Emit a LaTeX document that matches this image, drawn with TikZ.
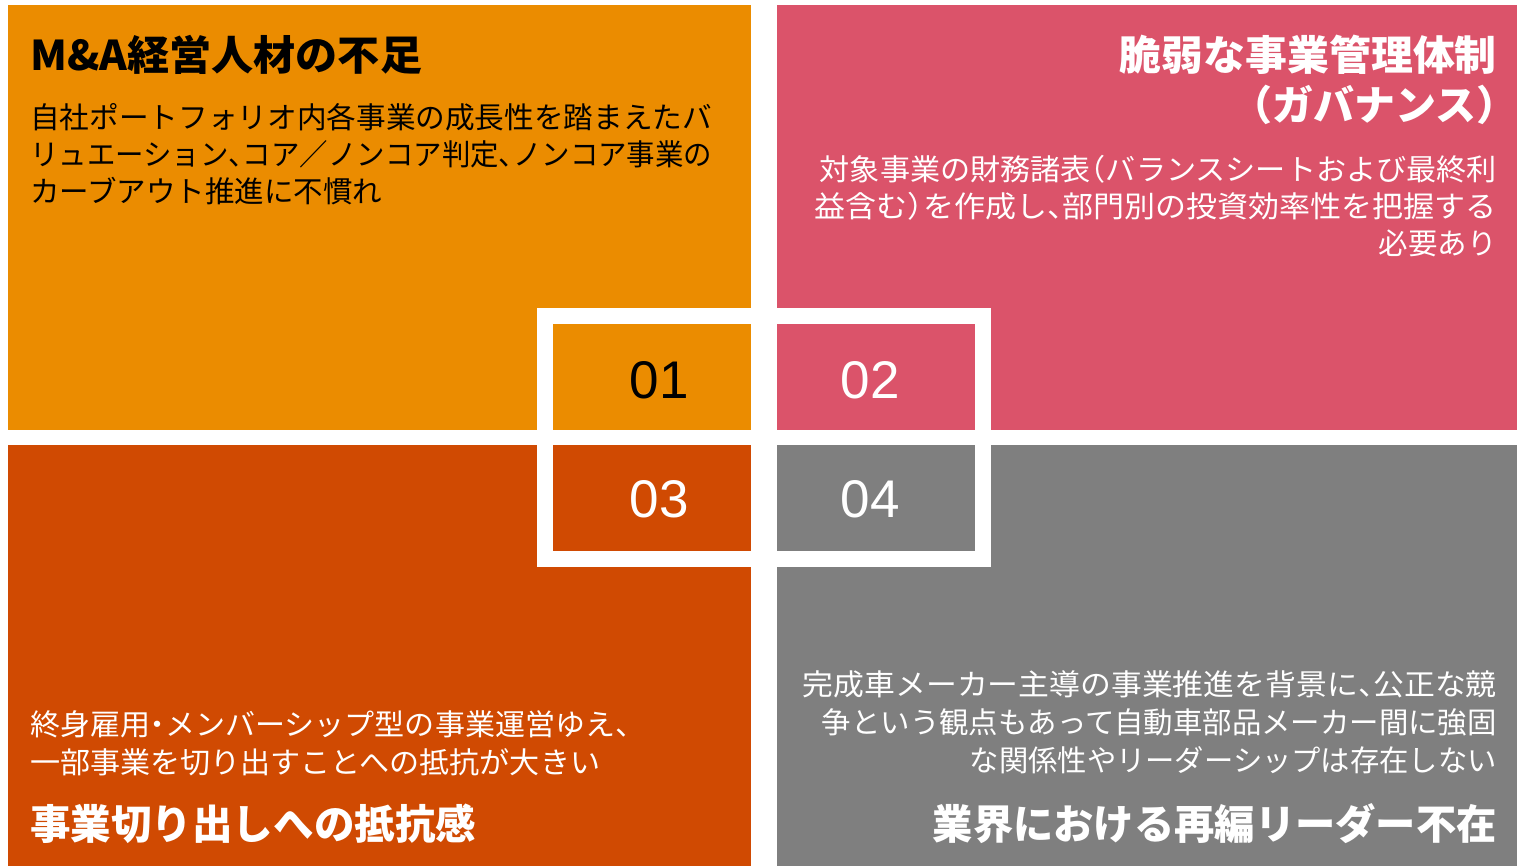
\documentclass[tikz,border=0pt]{standalone}
\usepackage{fontspec}
\setmainfont{Liberation Sans}
\newfontfamily\jp{Noto Sans CJK JP}
\newfontfamily\jph[RawFeature=+halt]{Noto Sans CJK JP}
\newcommand\hp[1]{{\jph #1}}
\newsavebox\fitbox
\newcommand\fitto[2]{\sbox\fitbox{#2}\pgfmathsetmacro\myfitfac{#1/\the\wd\fitbox}\scalebox{\myfitfac}[1]{\usebox\fitbox}}
\definecolor{cOrange}{HTML}{EB8C00}
\definecolor{cRose}{HTML}{DB536A}
\definecolor{cDark}{HTML}{D04A02}
\definecolor{cGray}{HTML}{7F7F7F}
\begin{document}
\begin{tikzpicture}[x=1pt,y=-1pt,
  body/.style={inner sep=0pt, font=\jp\fontsize{29.5}{36}\selectfont},
  ttl/.style={inner sep=0pt, font=\jp\bfseries\fontsize{41}{50}\selectfont},
  num/.style={inner sep=0pt, anchor=base, font=\fontsize{53}{60}\selectfont}]
\useasboundingbox (0,0) rectangle (1517,866);
\fill[white] (0,0) rectangle (1517,866);
% quadrants
\fill[cOrange] (8,5) rectangle (751,430);
\fill[cRose] (777,5) rectangle (1517,430);
\fill[cDark] (8,445) rectangle (751,866);
\fill[cGray] (777,445) rectangle (1517,866);
% central white frame
\draw[white, line width=16pt] (545,316) rectangle (983,559);
% numbers
\node[num, text=black] (n1) at (659,398) {01};
\node[num, text=white] (n2) at (870,398) {02};
\node[num, text=white] (n3) at (659,517) {03};
\node[num, text=white] (n4) at (870,517) {04};
% top-left
\node[ttl, anchor=base west, text=black] (t1) at (30,71) {\fitto{392}{M\&A経営人材の不足}};
\node[body, anchor=base west, text=black] (b1a) at (30,129) {\fitto{682}{自社ポートフォリオ内各事業の成長性を踏まえたバ}};
\node[body, anchor=base west, text=black] (b1b) at (30,166) {\fitto{682}{リュエーション\hp{、}コア／ノンコア判定\hp{、}ノンコア事業の}};
\node[body, anchor=base west, text=black] (b1c) at (30,203) {\fitto{352}{カーブアウト推進に不慣れ}};
% top-right
\node[ttl, anchor=base east, text=white] (t2a) at (1497,71) {\fitto{377}{脆弱な事業管理体制}};
\node[ttl, anchor=base east, text=white] (t2b) at (1497,121) {\hp{（}ガバナンス\hp{）}};
\node[body, anchor=base east, text=white] (b2a) at (1497,181) {\fitto{677}{対象事業の財務諸表\hp{（}バランスシートおよび最終利}};
\node[body, anchor=base east, text=white] (b2b) at (1497,218) {\fitto{682}{益含む\hp{）}を作成し\hp{、}部門別の投資効率性を把握する}};
\node[body, anchor=base east, text=white] (b2c) at (1497,255) {必要あり};
% bottom-left
\node[body, anchor=base west, text=white] (b3a) at (30,735) {\fitto{600}{終身雇用\hp{・}メンバーシップ型の事業運営ゆえ\hp{、}}};
\node[body, anchor=base west, text=white] (b3b) at (30,773) {\fitto{570}{一部事業を切り出すことへの抵抗が大きい}};
\node[ttl, anchor=base west, text=white] (t3) at (30,839) {\fitto{446}{事業切り出しへの抵抗感}};
% bottom-right
\node[body, anchor=base east, text=white] (b4a) at (1497,695) {\fitto{694}{完成車メーカー主導の事業推進を背景に\hp{、}公正な競}};
\node[body, anchor=base east, text=white] (b4b) at (1497,733) {\fitto{675}{争という観点もあって自動車部品メーカー間に強固}};
\node[body, anchor=base east, text=white] (b4c) at (1497,771) {\fitto{527}{な関係性やリーダーシップは存在しない}};
\node[ttl, anchor=base east, text=white] (t4) at (1497,839) {\fitto{564}{業界における再編リーダー不在}};
\end{tikzpicture}
\end{document}
